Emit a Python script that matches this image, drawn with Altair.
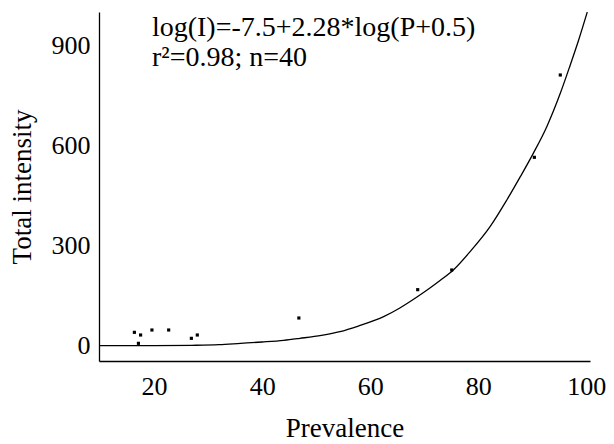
import altair as alt
import pandas as pd

# Observed points (Prevalence, Total intensity)
pt_prev = [16.35, 17.5, 17.1, 19.6, 22.7, 26.9, 28.0, 46.8, 68.8, 75.1, 90.4, 95.2]
pt_int = [40, 32, 7, 47, 47, 22, 32, 83, 168, 227, 565, 812]

# Fitted curve
cv_prev = [10, 20, 27, 32, 36, 40, 44, 47, 51, 54.4, 58, 62.5, 65.5, 68.6, 71, 73,
           75.4, 78.5, 82.2, 85.3, 87.8, 90.2, 92.7, 95.2, 97.0, 98.6, 100.2]
cv_int = [0, 0, 1, 3, 7, 11, 16, 22, 31, 42, 60, 87, 113, 145, 172, 196,
          227, 282, 357, 437, 507, 577, 657, 757, 840, 917, 1001]

ann_text = ["log(I)=-7.5+2.28*log(P+0.5)", "r\u00b2=0.98; n=40"]
ann_x = [19.6, 19.6]
ann_y = [929, 839]

x_ticks = [20, 40, 60, 80, 100]
y_ticks = [0, 300, 600, 900]

FONT = "Liberation Serif"

pts = pd.DataFrame({"P": pt_prev, "I": pt_int})
curve = pd.DataFrame({"P": cv_prev, "I": cv_int})
ann = pd.DataFrame({"t": ann_text, "P": ann_x, "I": ann_y})

xs = alt.Scale(domain=[9.8, 100.7], nice=False, zero=False)
ys = alt.Scale(domain=[-46, 1001], nice=False, zero=False)

xax = alt.Axis(values=x_ticks, title="Prevalence", grid=False, ticks=False,
               labelPadding=12, titlePadding=16, labelFontSize=26, titleFontSize=27,
               labelFont=FONT, titleFont=FONT, titleFontWeight="normal")
yax = alt.Axis(values=y_ticks, title="Total intensity", grid=False, ticks=False,
               labelPadding=9, titlePadding=15, labelFontSize=26, titleFontSize=27,
               labelFont=FONT, titleFont=FONT, titleFontWeight="normal")

line = alt.Chart(curve).mark_line(color="black", strokeWidth=1.3, clip=True,
                                  interpolate="monotone").encode(
    x=alt.X("P:Q", scale=xs, axis=xax),
    y=alt.Y("I:Q", scale=ys, axis=yax),
    order="P:Q",
)

dots = alt.Chart(pts).mark_square(color="black", size=10, opacity=1).encode(
    x=alt.X("P:Q", scale=xs),
    y=alt.Y("I:Q", scale=ys),
)

text = alt.Chart(ann).mark_text(align="left", baseline="alphabetic", font=FONT,
                                fontSize=28, color="black").encode(
    x=alt.X("P:Q", scale=xs),
    y=alt.Y("I:Q", scale=ys),
    text="t:N",
)

chart = (line + dots + text).properties(
    width=491, height=349,
    background="white",
    autosize=alt.AutoSizeParams(type="none"),
    padding={"left": 91, "top": 4, "right": 16, "bottom": 80},
).configure_view(stroke=None).configure_axis(
    labelColor="black", titleColor="black",
    domainColor="black", domainWidth=1.3,
)

chart.save("out.html", embed_options={"renderer": "svg", "actions": False})
